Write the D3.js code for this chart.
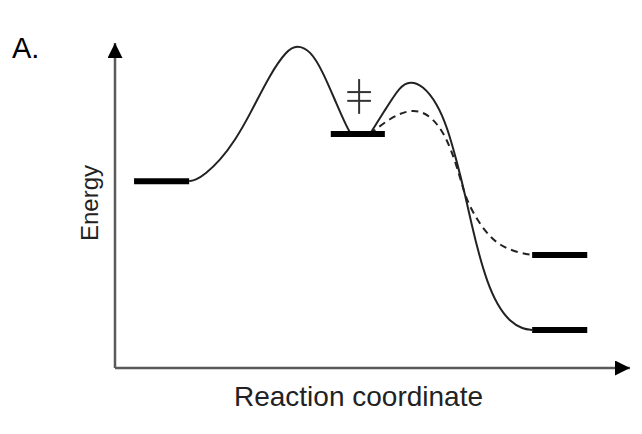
<!DOCTYPE html>
<html>
<head>
<meta charset="utf-8">
<script src="https://cdn.jsdelivr.net/npm/d3@7"></script>
<style>
  html, body { margin: 0; padding: 0; background: #fff; }
  svg { display: block; }
  text { font-family: "Liberation Sans", Arial, Helvetica, sans-serif; }
</style>
</head>
<body>
<svg id="chart" width="642" height="434"></svg>
<script>
// ---- data (reaction coordinate 0-100, energy 0-100) ----
const panelLabel = "A.";
const xLabel = "Reaction coordinate";
const yLabel = "Energy";

// energy levels: [xStart, xEnd, energy]
const reactantLevel = [3.7, 14.4, 57.5];
const intermediateLevel = [41.9, 52.4, 72.0];
const productLevelSolid = [81.0, 91.7, 11.7];
const productLevelDashed = [81.0, 91.7, 34.8];

// first barrier (reactant -> intermediate)
const barrier1X = [14.4, 15.6, 17.5, 20.4, 23.3, 26.2, 30.1, 33.4, 35.3, 37.9, 40.4, 43.1, 45.0, 45.8];
const barrier1E = [57.5, 57.8, 59.6, 63.9, 70.0, 78.0, 90.4, 97.8, 99.4, 97.8, 91.1, 80.9, 74.2, 72.0];

// second barrier, solid path (intermediate -> lower product)
const barrier2X = [49.5, 52.8, 55.3, 57.3, 59.8, 62.5, 64.5, 66.4, 68.0, 69.3, 70.7, 72.2, 74.2, 76.7, 79.2, 81.0];
const barrier2E = [72.0, 80.3, 86.6, 88.3, 86.9, 81.5, 74.2, 63.4, 53.2, 43.8, 34.8, 26.8, 19.4, 14.2, 12.0, 11.7];

// second barrier, dashed path (intermediate -> higher product)
const dashedX = [49.5, 53.4, 56.7, 59.2, 61.7, 64.1, 66.0, 67.4, 68.3, 70.3, 72.8, 75.3, 78.6, 81.0];
const dashedE = [72.0, 76.9, 79.2, 79.2, 76.9, 71.7, 64.0, 56.3, 51.7, 45.5, 40.3, 37.2, 35.4, 34.8];

// transition-state (double dagger) marker: centre x, energy range of stem, energies of bars, bar half-width
const tsX = 47.4;
const tsStem = [78.2, 88.9];
const tsBars = [84.9, 82.2];
const tsHalfWidth = 2.3;

// ---- drawing ----
const svg = d3.select("#chart");
const x = d3.scaleLinear().domain([0, 100]).range([115, 630]);
const y = d3.scaleLinear().domain([0, 100]).range([368, 43]);

const defs = svg.append("defs");
defs.append("marker")
  .attr("id", "arrow")
  .attr("viewBox", "0 0 10 10")
  .attr("refX", 10).attr("refY", 5)
  .attr("markerUnits", "userSpaceOnUse")
  .attr("markerWidth", 15).attr("markerHeight", 15)
  .attr("orient", "auto")
  .append("path").attr("d", "M0,0 L10,5 L0,10 Z").attr("fill", "#000");

// axes
svg.append("line")
  .attr("x1", x(0)).attr("y1", y(0))
  .attr("x2", x(0)).attr("y2", y(100))
  .attr("stroke", "#5a5a5a").attr("stroke-width", 2.5)
  .attr("marker-end", "url(#arrow)");
svg.append("line")
  .attr("x1", x(0)).attr("y1", y(0))
  .attr("x2", x(100)).attr("y2", y(0))
  .attr("stroke", "#5a5a5a").attr("stroke-width", 2.5)
  .attr("marker-end", "url(#arrow)");

const line = d3.line()
  .x(d => x(d[0])).y(d => y(d[1]))
  .curve(d3.curveBasis);

const zip = (a, b) => a.map((v, i) => [v, b[i]]);

svg.append("path")
  .attr("d", line(zip(barrier1X, barrier1E)))
  .attr("fill", "none").attr("stroke", "#222").attr("stroke-width", 2);
svg.append("path")
  .attr("d", line(zip(barrier2X, barrier2E)))
  .attr("fill", "none").attr("stroke", "#222").attr("stroke-width", 2);
svg.append("path")
  .attr("d", line(zip(dashedX, dashedE)))
  .attr("fill", "none").attr("stroke", "#222").attr("stroke-width", 2)
  .attr("stroke-dasharray", "7,5");

// levels
[reactantLevel, intermediateLevel, productLevelDashed, productLevelSolid].forEach(l => {
  svg.append("line")
    .attr("x1", x(l[0])).attr("x2", x(l[1]))
    .attr("y1", y(l[2])).attr("y2", y(l[2]))
    .attr("stroke", "#000").attr("stroke-width", 6);
});

// transition state symbol (double dagger)
const ts = svg.append("g").attr("stroke", "#333").attr("stroke-width", 2);
ts.append("line")
  .attr("x1", x(tsX)).attr("x2", x(tsX))
  .attr("y1", y(tsStem[0])).attr("y2", y(tsStem[1]));
tsBars.forEach(b => {
  ts.append("line")
    .attr("x1", x(tsX - tsHalfWidth)).attr("x2", x(tsX + tsHalfWidth))
    .attr("y1", y(b)).attr("y2", y(b));
});

// labels
svg.append("text")
  .attr("x", 12).attr("y", 58)
  .attr("font-size", 29).attr("fill", "#000")
  .text(panelLabel);

svg.append("text")
  .attr("transform", "translate(98,203) rotate(-90)")
  .attr("text-anchor", "middle")
  .attr("font-size", 24).attr("fill", "#222")
  .text(yLabel);

svg.append("text")
  .attr("x", 358.5).attr("y", 406)
  .attr("text-anchor", "middle")
  .attr("font-size", 28).attr("fill", "#222")
  .text(xLabel);
</script>
</body>
</html>
